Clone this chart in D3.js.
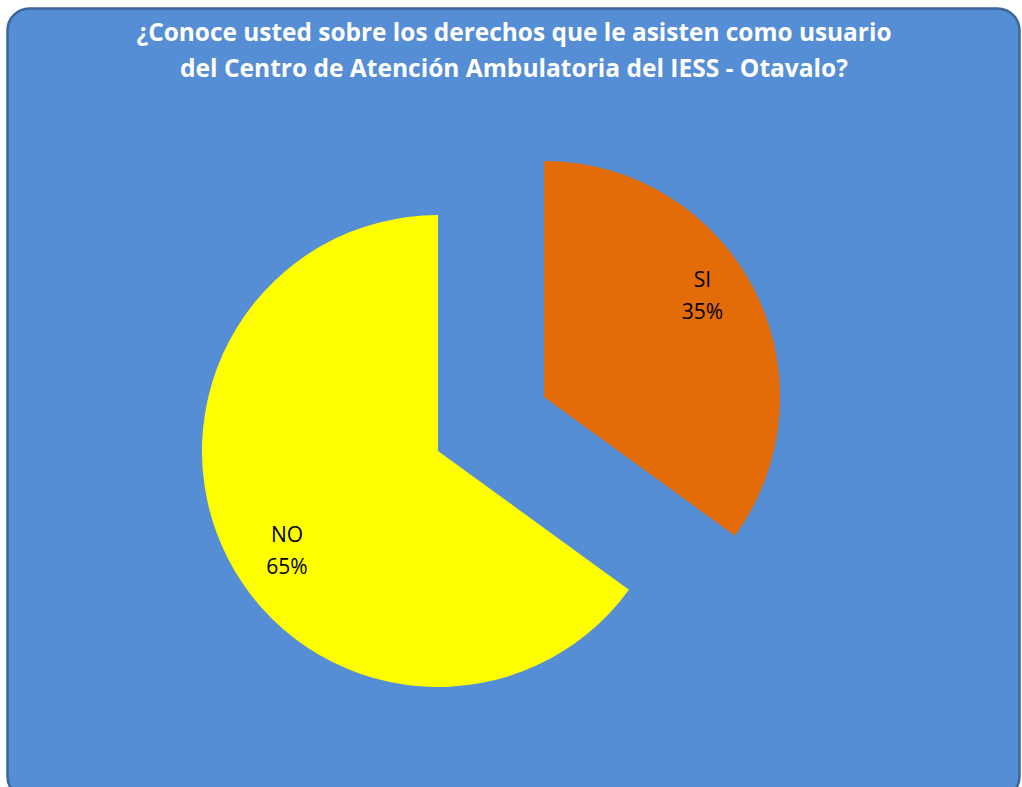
<!DOCTYPE html>
<html><head><meta charset="utf-8">
<script src="https://cdn.jsdelivr.net/npm/d3@7"></script>
<style>html,body{margin:0;padding:0;background:#fff;overflow:hidden}</style>
</head><body>
<svg id="c" width="1022" height="787"></svg>
<script>
const titleLines = ["¿Conoce usted sobre los derechos que le asisten como usuario", "del Centro de Atención Ambulatoria del IESS - Otavalo?"];
const categories = ["SI", "NO"];
const values = [35, 65];
const colors = ["#E36C09", "#FFFF00"];
const explode = [119, 0];

const svg = d3.select("#c");
svg.append("rect").attr("x", 7.5).attr("y", 8.5).attr("width", 1012).attr("height", 790)
  .attr("rx", 22).attr("ry", 22).attr("fill", "#558ED5").attr("stroke", "#3B6699").attr("stroke-width", 2.5);

const tw = [755, 668];
titleLines.forEach((t, i) => {
  svg.append("text").attr("x", 514).attr("y", 41 + i * 36).attr("text-anchor", "middle")
    .attr("font-family", "Open Sans, Liberation Sans, sans-serif").attr("font-weight", "bold")
    .attr("font-size", 25).attr("fill", "#fff")
    .attr("textLength", tw[i]).attr("lengthAdjust", "spacingAndGlyphs").text(t);
});

const cx = 438, cy = 451, r = 236;
const pie = d3.pie().sort(null).value(d => d)(values);
const arc = d3.arc().innerRadius(0).outerRadius(r);
const g = svg.append("g").attr("transform", `translate(${cx},${cy})`);
pie.forEach((p, i) => {
  const mid = (p.startAngle + p.endAngle) / 2;
  const ox = Math.sin(mid) * explode[i], oy = -Math.cos(mid) * explode[i];
  const sg = g.append("g").attr("transform", `translate(${ox},${oy})`);
  sg.append("path").attr("d", arc(p)).attr("fill", colors[i]);
  const la = mid - 6 * Math.PI / 180, lr = i === 0 ? 189 : 180;
  const lx = Math.sin(la) * lr, ly = -Math.cos(la) * lr;
  const t = sg.append("text").attr("text-anchor", "middle")
    .attr("font-family", "Open Sans, Liberation Sans, sans-serif").attr("font-size", 21).attr("fill", "#000");
  t.append("tspan").attr("x", lx).attr("y", ly - 7).text(categories[i]);
  t.append("tspan").attr("x", lx).attr("y", ly + 25).text(Math.round(values[i]) + "%");
});
</script>
</body></html>
